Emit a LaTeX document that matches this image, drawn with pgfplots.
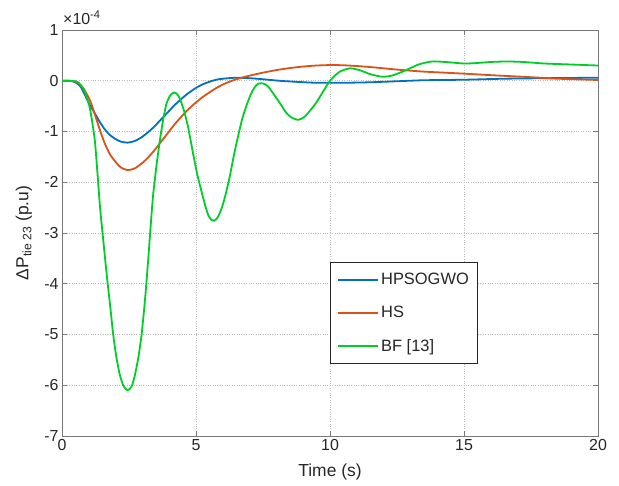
\documentclass[border=0pt]{standalone}
\usepackage{fontspec}
\setmainfont{Liberation Sans}
\usepackage{pgfplots}
\pgfplotsset{compat=1.18}
\definecolor{mblue}{rgb}{0,0.447,0.741}
\definecolor{morange}{rgb}{0.85,0.325,0.098}
\definecolor{mgreen}{RGB}{0,206,40}
\definecolor{axgray}{RGB}{120,120,120}
\definecolor{txt}{RGB}{38,38,38}
\begin{document}
\begin{tikzpicture}
\useasboundingbox (-62bp,-50bp) rectangle (557bp,436bp);
\begin{axis}[
 scale only axis, width=536bp, height=406bp,
 xmin=0, xmax=20, ymin=-7, ymax=1,
 xtick={0,5,10,15,20}, ytick={-7,-6,-5,-4,-3,-2,-1,0,1},
 axis line style={axgray, line width=0.7bp},
 tick style={axgray, line width=0.7bp},
 major tick length=5bp, tick align=inside,
 grid=major, major grid style={axgray!50, dotted, line width=0.7bp},
 ticklabel style={font=\fontsize{16}{18}\selectfont, text=txt},
 /pgf/number format/assume math mode=true,
 xlabel={Time (s)},
 ylabel={ΔP\textsubscript{tie 23} (p.u)},
 label style={font=\fontsize{17.5}{20}\selectfont, text=txt},
 xlabel style={at={(axis description cs:0.5,-0.0887)}, anchor=center},
 ylabel style={at={(axis description cs:-0.071,0.5)}, anchor=center},
 legend style={at={(0.5,0.4286)}, anchor=north west, draw=txt, line width=0.7bp,
   font=\fontsize{16.5}{18}\selectfont, text=txt, fill=white,
   inner xsep=7bp, inner ysep=9bp, row sep=16bp},
 legend cell align=left,
 legend image code/.code={\draw[#1] (0bp,0bp) -- (40bp,0bp);},
 every axis plot/.append style={line width=1.8bp, smooth, tension=0.4, line join=round},
]
\addplot[mblue] coordinates {
(0,0) (0.3,-0.005) (0.5,-0.03) (0.7,-0.12) (0.9,-0.33) (1.04,-0.48) (1.2,-0.62)
(1.42,-0.82) (1.6,-0.96) (1.79,-1.07) (2.0,-1.15) (2.2,-1.2) (2.45,-1.22)
(2.7,-1.19) (2.95,-1.12) (3.2,-1.02) (3.45,-0.9) (3.7,-0.76) (3.95,-0.62)
(4.2,-0.48) (4.45,-0.36) (4.7,-0.25) (5.0,-0.14) (5.25,-0.07) (5.5,-0.02)
(5.75,0.02) (6.0,0.04) (6.5,0.06) (7.0,0.05)
(7.5,0.03) (8.1,0.0) (8.7,-0.02) (9.5,-0.04) (10.5,-0.04) (11.5,-0.03)
(12.5,-0.01) (13.5,0.01) (15,0.02) (16.5,0.04) (18,0.05) (20,0.06)
};
\addlegendentry{HPSOGWO}
\addplot[morange] coordinates {
(0,0) (0.4,-0.005) (0.6,-0.04) (0.8,-0.15) (1.04,-0.38) (1.2,-0.62) (1.42,-0.98)
(1.6,-1.24) (1.79,-1.45) (2.0,-1.6) (2.2,-1.71) (2.45,-1.76) (2.7,-1.73)
(2.95,-1.64) (3.2,-1.52) (3.45,-1.37) (3.7,-1.2) (3.95,-1.03) (4.2,-0.86)
(4.45,-0.71) (4.7,-0.57) (4.95,-0.45) (5.2,-0.34) (5.5,-0.23) (5.8,-0.13)
(6.1,-0.05) (6.4,0.01) (6.7,0.06) (7.0,0.1)
(7.5,0.16) (8.0,0.21) (8.5,0.25) (9.0,0.28) (9.5,0.3) (10.1,0.31) (10.7,0.3)
(11.5,0.27) (12.5,0.22) (13.5,0.18) (15,0.14) (16,0.11) (17.5,0.07) (18.5,0.04)
(20,0.015)
};
\addlegendentry{HS}
\addplot[mgreen] coordinates {
(0,0) (0.4,-0.005) (0.6,-0.03) (0.8,-0.16) (0.92,-0.32) (1.04,-0.54) (1.13,-0.82)
(1.23,-1.2) (1.32,-1.8) (1.42,-2.5) (1.55,-3.2) (1.67,-3.83) (1.8,-4.45)
(1.91,-5.0) (2.03,-5.45) (2.16,-5.8) (2.3,-6.02) (2.45,-6.1) (2.6,-6.02)
(2.72,-5.8) (2.85,-5.45) (2.97,-5.0) (3.1,-4.3) (3.22,-3.5) (3.31,-2.85)
(3.4,-2.25) (3.53,-1.65) (3.66,-1.15) (3.78,-0.75) (3.9,-0.45) (4.05,-0.28)
(4.2,-0.23) (4.35,-0.3) (4.53,-0.55) (4.7,-0.9) (4.9,-1.46) (5.05,-1.85)
(5.21,-2.19) (5.35,-2.47) (5.46,-2.65) (5.57,-2.74) (5.67,-2.76) (5.8,-2.7)
(5.96,-2.51) (6.1,-2.25) (6.27,-1.86) (6.42,-1.45) (6.58,-1.07) (6.73,-0.74)
(6.89,-0.48) (7.05,-0.26) (7.2,-0.12) (7.32,-0.06) (7.45,-0.05) (7.58,-0.07)
(7.7,-0.12) (7.88,-0.25) (8.13,-0.44) (8.35,-0.62) (8.55,-0.72) (8.82,-0.77)
(9.05,-0.71) (9.3,-0.56) (9.5,-0.42) (9.7,-0.25) (9.85,-0.12) (10.0,0.0)
(10.2,0.11) (10.4,0.19) (10.75,0.245) (11.1,0.21) (11.5,0.13) (11.93,0.08)
(12.3,0.1) (12.8,0.2) (13.3,0.32) (13.8,0.38) (14.3,0.37) (15.0,0.34)
(15.5,0.35) (16.0,0.37) (16.6,0.38) (17.2,0.37) (18.0,0.34) (19.0,0.32)
(20,0.30)
};
\addlegendentry{BF [13]}
\end{axis}
\node[anchor=base west, font=\fontsize{16}{18}\selectfont, text=txt, inner sep=0pt]
  at (1bp,411bp) {×10\textsuperscript{-4}};
\end{tikzpicture}
\end{document}
